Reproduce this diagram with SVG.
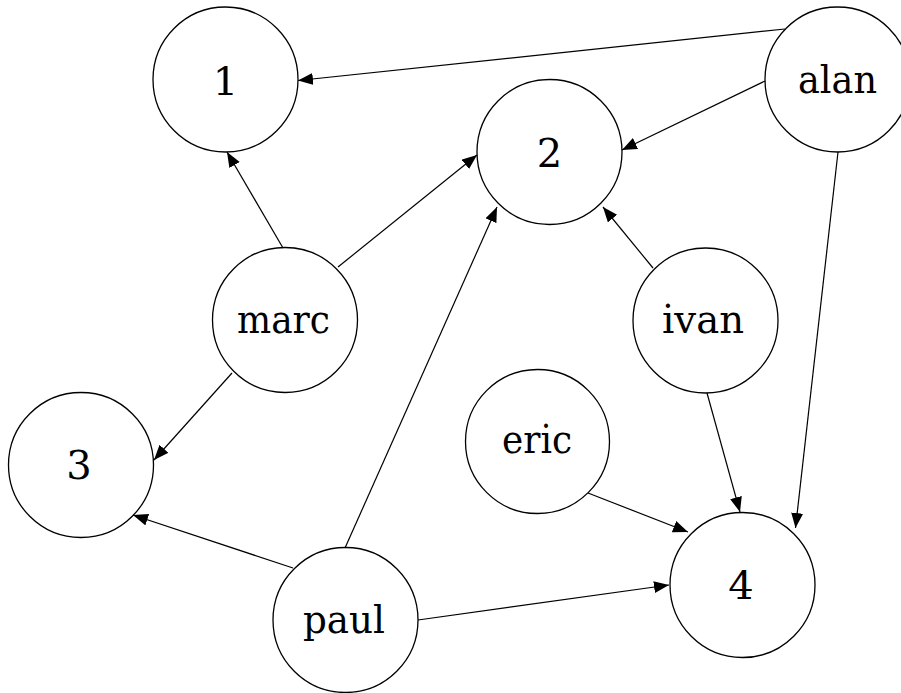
<svg xmlns="http://www.w3.org/2000/svg" width="901" height="693" viewBox="0 0 901 693">
<style>
.n{fill:#fff;stroke:#000;stroke-width:1.3}
.t{font-family:'DejaVu Serif','Liberation Serif',serif;font-size:40px;text-anchor:middle;fill:#000}
.e{stroke:#000;stroke-width:1.2;fill:none;marker-end:url(#a)}
</style>
<defs>
<marker id="a" markerUnits="userSpaceOnUse" markerWidth="16" markerHeight="13" refX="15" refY="6" orient="auto">
<path d="M0,0 L15,6 L0,12 z" fill="#000"/>
</marker>
</defs>
<rect width="901" height="693" fill="#fff"/>
<g id="nodes">
<g id="n1"><circle class="n" cx="225.5" cy="79.5" r="72.5"/><text class="t" x="225.5" y="95">1</text></g>
<g id="n2"><circle class="n" cx="549.5" cy="152" r="72.5"/><text class="t" x="549.5" y="167">2</text></g>
<g id="alan"><circle class="n" cx="837.5" cy="79.5" r="72.5"/><text class="t" x="837.5" y="93" textLength="79" lengthAdjust="spacingAndGlyphs">alan</text></g>
<g id="marc"><circle class="n" cx="285" cy="320" r="72.5"/><text class="t" x="283.5" y="333" textLength="93" lengthAdjust="spacingAndGlyphs">marc</text></g>
<g id="ivan"><circle class="n" cx="705.5" cy="320.5" r="72.5"/><text class="t" x="703" y="333" textLength="82" lengthAdjust="spacingAndGlyphs">ivan</text></g>
<g id="eric"><circle class="n" cx="537.5" cy="441.5" r="72"/><text class="t" x="537" y="453" textLength="70" lengthAdjust="spacingAndGlyphs">eric</text></g>
<g id="n3"><circle class="n" cx="81" cy="465" r="72.5"/><text class="t" x="79" y="479">3</text></g>
<g id="n4"><circle class="n" cx="742.5" cy="585" r="72.5"/><text class="t" x="741" y="599">4</text></g>
<g id="paul"><circle class="n" cx="345.5" cy="620" r="72.5"/><text class="t" x="344" y="633" textLength="82" lengthAdjust="spacingAndGlyphs">paul</text></g>
</g>
<g id="edges">
<line class="e" x1="785" y1="29" x2="298" y2="80.5"/>
<line class="e" x1="765" y1="81" x2="622" y2="150"/>
<line class="e" x1="838" y1="152" x2="795.5" y2="528"/>
<line class="e" x1="653" y1="268" x2="603" y2="207"/>
<line class="e" x1="707" y1="393" x2="740" y2="512"/>
<line class="e" x1="588" y1="493" x2="688" y2="532"/>
<line class="e" x1="418" y1="620" x2="669" y2="585"/>
<line class="e" x1="293" y1="568" x2="133" y2="515"/>
<line class="e" x1="345" y1="548" x2="497" y2="207"/>
<line class="e" x1="283" y1="248" x2="227" y2="152"/>
<line class="e" x1="338" y1="267" x2="477" y2="155"/>
<line class="e" x1="232" y1="373" x2="154" y2="460"/>
</g>
</svg>
